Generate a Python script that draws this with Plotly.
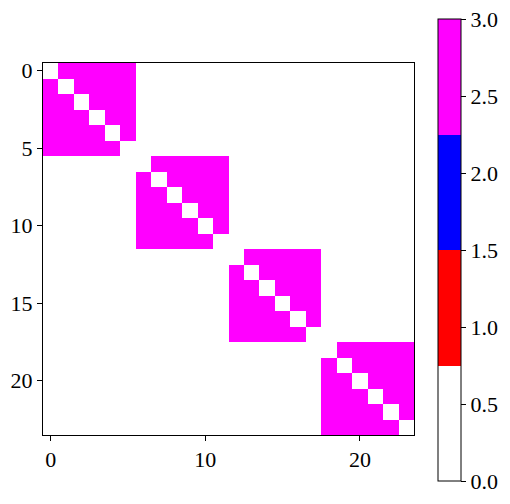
import plotly.graph_objects as go

# Data: block-diagonal matrix, 4 blocks of size 6, off-diagonal value 3, diagonal 0
block_sizes = [6, 6, 6, 6]
block_value = 3
diag_value = 0
x_ticks = [0, 10, 20]
y_ticks = [0, 5, 10, 15, 20]
cbar_ticks = [0.0, 0.5, 1.0, 1.5, 2.0, 2.5, 3.0]

n = sum(block_sizes)
z = [[None] * n for _ in range(n)]
start = 0
for bs in block_sizes:
    for i in range(start, start + bs):
        for j in range(start, start + bs):
            z[i][j] = diag_value if i == j else block_value
    start += bs

colorscale = [
    [0.0, "white"], [0.25, "white"],
    [0.25, "red"], [0.5, "red"],
    [0.5, "blue"], [0.75, "blue"],
    [0.75, "magenta"], [1.0, "magenta"],
]

font = dict(family="Liberation Serif, DejaVu Serif, serif", size=22, color="black")

fig = go.Figure(go.Heatmap(
    z=z,
    x=list(range(n)),
    y=list(range(n)),
    zmin=0, zmax=3,
    colorscale=colorscale,
    xgap=0, ygap=0,
    colorbar=dict(
        x=(438 - 43) / 372, xanchor="left", xref="paper",
        y=(435 - 250) / 372, yanchor="middle",
        thickness=23, thicknessmode="pixels",
        len=462, lenmode="pixels",
        outlinewidth=1, outlinecolor="black",
        tickvals=cbar_ticks,
        ticktext=[f"{v:.1f}" for v in cbar_ticks],
        ticks="outside", ticklen=5, tickcolor="black",
        tickfont=font,
        xpad=0, ypad=0,
    ),
    hoverinfo="skip",
))

axis_common = dict(
    showgrid=False, zeroline=False,
    showline=True, mirror=True, linecolor="black", linewidth=1,
    ticks="outside", ticklen=5, tickcolor="black",
    tickfont=font,
)

fig.update_layout(
    width=510, height=504,
    margin=dict(l=43, r=95, t=63, b=69),
    paper_bgcolor="white", plot_bgcolor="white",
    font=font,
    xaxis=dict(range=[-0.5, n - 0.5], tickvals=x_ticks, **axis_common),
    yaxis=dict(range=[n - 0.5, -0.5], tickvals=y_ticks, **axis_common),
)

fig.write_html(
    "out.html",
    config={"displayModeBar": False},
    post_script="document.body.style.margin='0px';",
)
